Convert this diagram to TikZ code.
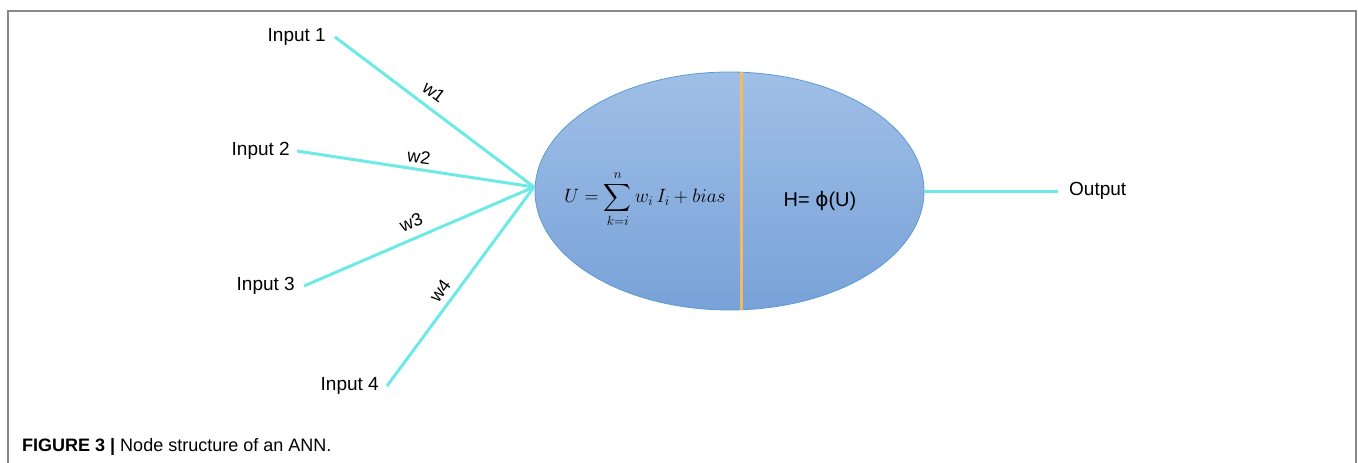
\documentclass[tikz,border=0pt]{standalone}
\usepackage{amsmath}
\usepackage{fontspec}
\setmainfont{Liberation Sans}
\newfontfamily\djv{DejaVu Sans}
\usetikzlibrary{shapes.geometric}
\definecolor{wire}{HTML}{6EEAE6}
\definecolor{bluetop}{HTML}{A0BFE7}
\definecolor{bluebot}{HTML}{78A2D8}
\definecolor{blueedge}{HTML}{5B9BD5}
\definecolor{divider}{HTML}{F5B961}
\definecolor{frame}{HTML}{888888}
\tikzset{
  lbl/.style={font=\fontsize{19}{21}\selectfont, inner sep=8pt},
  wlbl/.style={font=\fontsize{18}{20}\selectfont, inner sep=0pt},
  wireline/.style={draw=wire, line width=3pt},
}
\begin{document}
\begin{tikzpicture}[x=1pt,y=-1pt]
\useasboundingbox (0,0) rectangle (1358,463);
% frame
\draw[frame, line width=2pt] (7.5,463) -- (7.5,11) -- (1356,11) -- (1356,463);
% neuron
\node[ellipse, minimum width=389pt, minimum height=238pt, inner sep=0pt,
      top color=bluetop, bottom color=bluebot, draw=blueedge, line width=0.8pt] (neuron) at (729.5,191) {};
\coordinate (dtop) at (741,72.3);
\coordinate (dbot) at (741,309.7);
\draw[divider, line width=3pt] (dtop) -- (dbot);
\coordinate (hub) at (534,187);
% inputs
\node[lbl, anchor=east, inner sep=9pt] (in1) at (335,37) {Input 1};
\node[lbl, anchor=east, inner sep=7pt] (in2) at (297,151) {Input 2};
\node[lbl, anchor=east, inner sep=9pt] (in3) at (304,286) {Input 3};
\node[lbl, anchor=east, inner sep=8pt] (in4) at (387,386) {Input 4};
\draw[wireline] (in1.east) -- (hub);
\draw[wireline] (in2.east) -- (hub);
\draw[wireline] (in3.east) -- (hub);
\draw[wireline] (in4.east) -- (hub);
% weights
\node[wlbl, rotate=-37] (w1) at (434,92) {w1};
\node[wlbl, rotate=-8] (w2) at (419,157) {w2};
\node[wlbl, rotate=23] (w3) at (411,222) {w3};
\node[wlbl, rotate=54] (w4) at (440,291) {w4};
% formulas
\node[font=\fontsize{20}{22}\selectfont, inner sep=0pt, scale=0.93, transform shape] (sumf) at (645,199)
  {$U=\displaystyle\sum_{k=i}^{n} w_i\, I_i + bias$};
\node[font=\fontsize{20}{22}\selectfont, inner sep=0pt] (hf) at (820,201) {H= {\djv ϕ}(U)};
% output
\node[lbl, anchor=west, inner sep=11pt] (out) at (1058,191) {Output};
\draw[wireline] (neuron.east) -- (out.west);
% caption
\node[anchor=west, inner sep=0pt, font=\fontsize{18}{20}\selectfont] (cap) at (22,447)
  {\textbf{FIGURE 3 |} Node structure of an ANN.};
\end{tikzpicture}
\end{document}
